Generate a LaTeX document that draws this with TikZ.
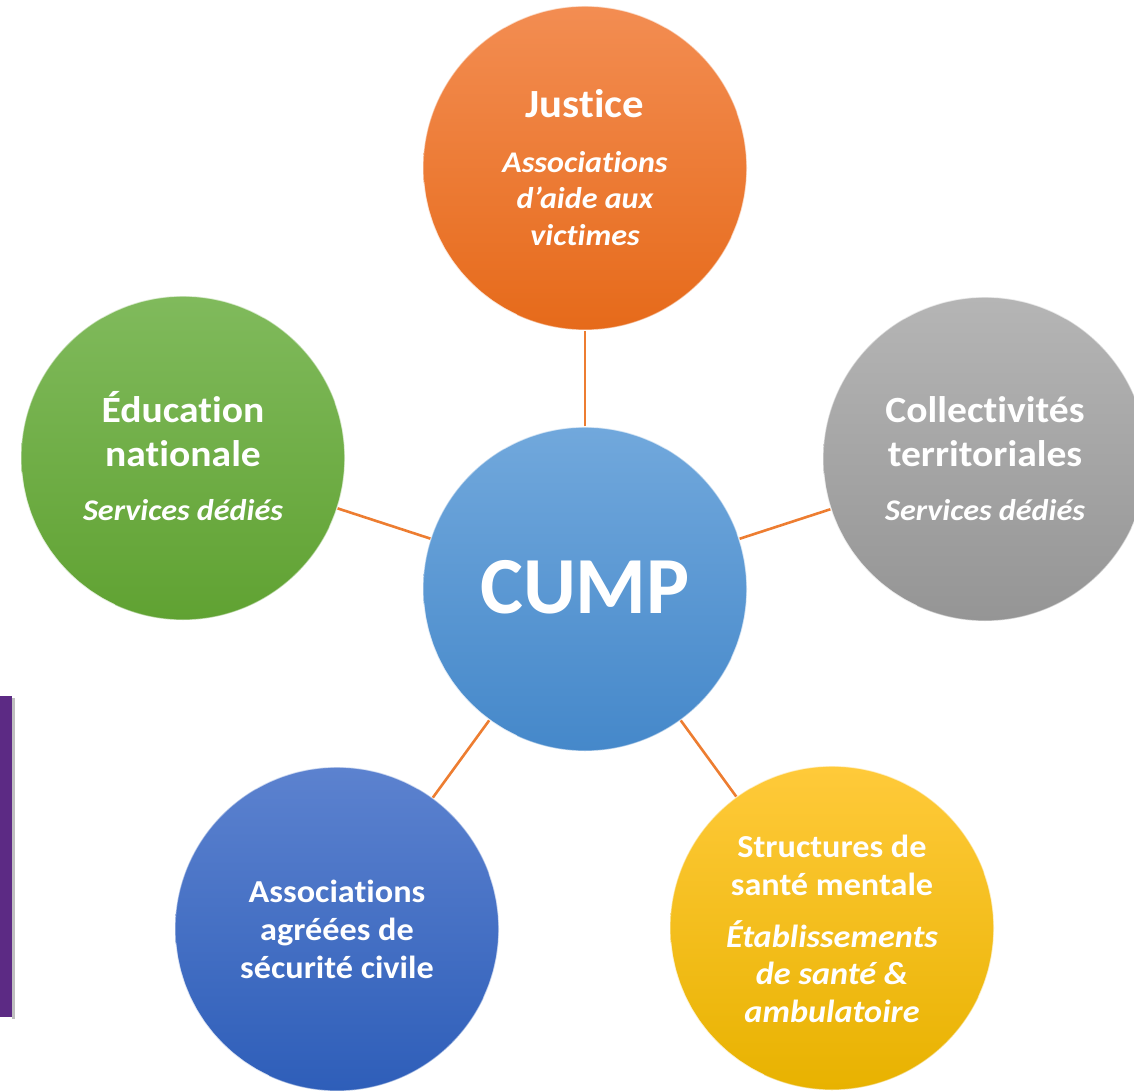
\documentclass[tikz,border=0pt]{standalone}
\usepackage{fontspec}
\setmainfont{Carlito}[Ligatures=NoCommon]
\newfontfamily\widefont{Carlito}[Ligatures=NoCommon, FakeStretch=1.07]
\definecolor{linkorange}{HTML}{ED7D31}
\definecolor{orTop}{HTML}{F38D52}
\definecolor{orBot}{HTML}{E66A1A}
\definecolor{grTop}{HTML}{B5B5B5}
\definecolor{grBot}{HTML}{959595}
\definecolor{gnTop}{HTML}{80BA5C}
\definecolor{gnBot}{HTML}{60A232}
\definecolor{lbTop}{HTML}{71A8DC}
\definecolor{lbBot}{HTML}{4588CA}
\definecolor{dbTop}{HTML}{5C82CF}
\definecolor{dbBot}{HTML}{2E5EB9}
\definecolor{yeTop}{HTML}{FFCA3A}
\definecolor{yeBot}{HTML}{E8B200}
\definecolor{barpurple}{HTML}{5C2A84}
\begin{document}
\begin{tikzpicture}[x=1pt,y=-1pt,
  bubble/.style={circle, minimum size=324pt, inner sep=0pt, draw=white, draw opacity=0.5, line width=1.2pt},
  rim/.style={draw=white, line width=2.4pt, line cap=round, line join=round, opacity=0.6},
  link/.style={draw=linkorange, line width=2.6pt},
  bt/.style={anchor=base, text=white, font=\widefont\fontsize{37}{40}\selectfont\bfseries},
  bjt/.style={anchor=base, text=white, font=\widefont\fontsize{40}{44}\selectfont\bfseries},
  bts/.style={anchor=base, text=white, font=\widefont\fontsize{32}{36}\selectfont\bfseries},
  it/.style={anchor=base, text=white, font=\widefont\fontsize{30}{34}\selectfont\bfseries\itshape},
  its/.style={anchor=base, text=white, font=\widefont\fontsize{32}{36}\selectfont\bfseries\itshape},
]
\useasboundingbox (0,0) rectangle (1134,1091);
\clip (0,0) rectangle (1134,1091);

% purple bar
\fill[black!25] (12,698) rectangle (15,1019);
\fill[barpurple] (0,696) rectangle (12,1017);

% circles
\node[bubble, top color=lbTop, bottom color=lbBot] (cump) at (585,589) {};
\node[bubble, top color=orTop, bottom color=orBot] (justice) at (585,168) {};
\node[bubble, top color=gnTop, bottom color=gnBot] (educ) at (183,458) {};
\node[bubble, top color=grTop, bottom color=grBot] (coll) at (985,459) {};
\node[bubble, top color=dbTop, bottom color=dbBot] (assoc) at (337,929) {};
\node[bubble, top color=yeTop, bottom color=yeBot] (sante) at (832,928) {};

% glossy rim highlights (border anchors: angles on screen, counter-clockwise from east)
\foreach \n in {cump,justice,educ,coll,assoc,sante}{
  \draw[rim] (\n.185) \foreach \a in {190,195,...,245}{ -- (\n.\a)};
  \draw[rim, opacity=0.45] (\n.-25) \foreach \a in {-20,-15,...,20}{ -- (\n.\a)};
  \draw[rim, opacity=0.35] (\n.60) \foreach \a in {65,70,...,120}{ -- (\n.\a)};
}

% connectors
\draw[link] (cump) -- (justice);
\draw[link] (cump) -- (educ);
\draw[link] (cump) -- (coll);
\draw[link] (cump) -- (assoc);
\draw[link] (cump) -- (sante);

% texts
\node[anchor=base, text=white, font=\fontsize{81}{88}\selectfont\bfseries] (cumpT) at (585,613) {CUMP};

\node[bjt] (jusT1) at (585,118) {Justice};
\node[it] (jusT2) at (585,173) {Associations};
\node[it] (jusT3) at (585,209) {d’aide aux};
\node[it] (jusT4) at (585,245) {victimes};

\node[bt] (eduT1) at (183,422) {Éducation};
\node[bt] (eduT2) at (183,466) {nationale};
\node[it] (eduT3) at (183,520) {Services dédiés};

\node[bt] (colT1) at (985,422) {Collectivités};
\node[bt] (colT2) at (985,466) {territoriales};
\node[it] (colT3) at (985,520) {Services dédiés};

\node[bts] (assT1) at (337,902) {Associations};
\node[bts] (assT2) at (337,940) {agréées de};
\node[bts] (assT3) at (337,978) {sécurité civile};

\node[bts] (sanT1) at (832,857) {Structures de};
\node[bts] (sanT2) at (832,895) {santé mentale};
\node[its] (sanT3) at (832,947) {Établissements};
\node[its] (sanT4) at (832,984) {de santé \&};
\node[its] (sanT5) at (832,1022) {ambulatoire};
\end{tikzpicture}
\end{document}
